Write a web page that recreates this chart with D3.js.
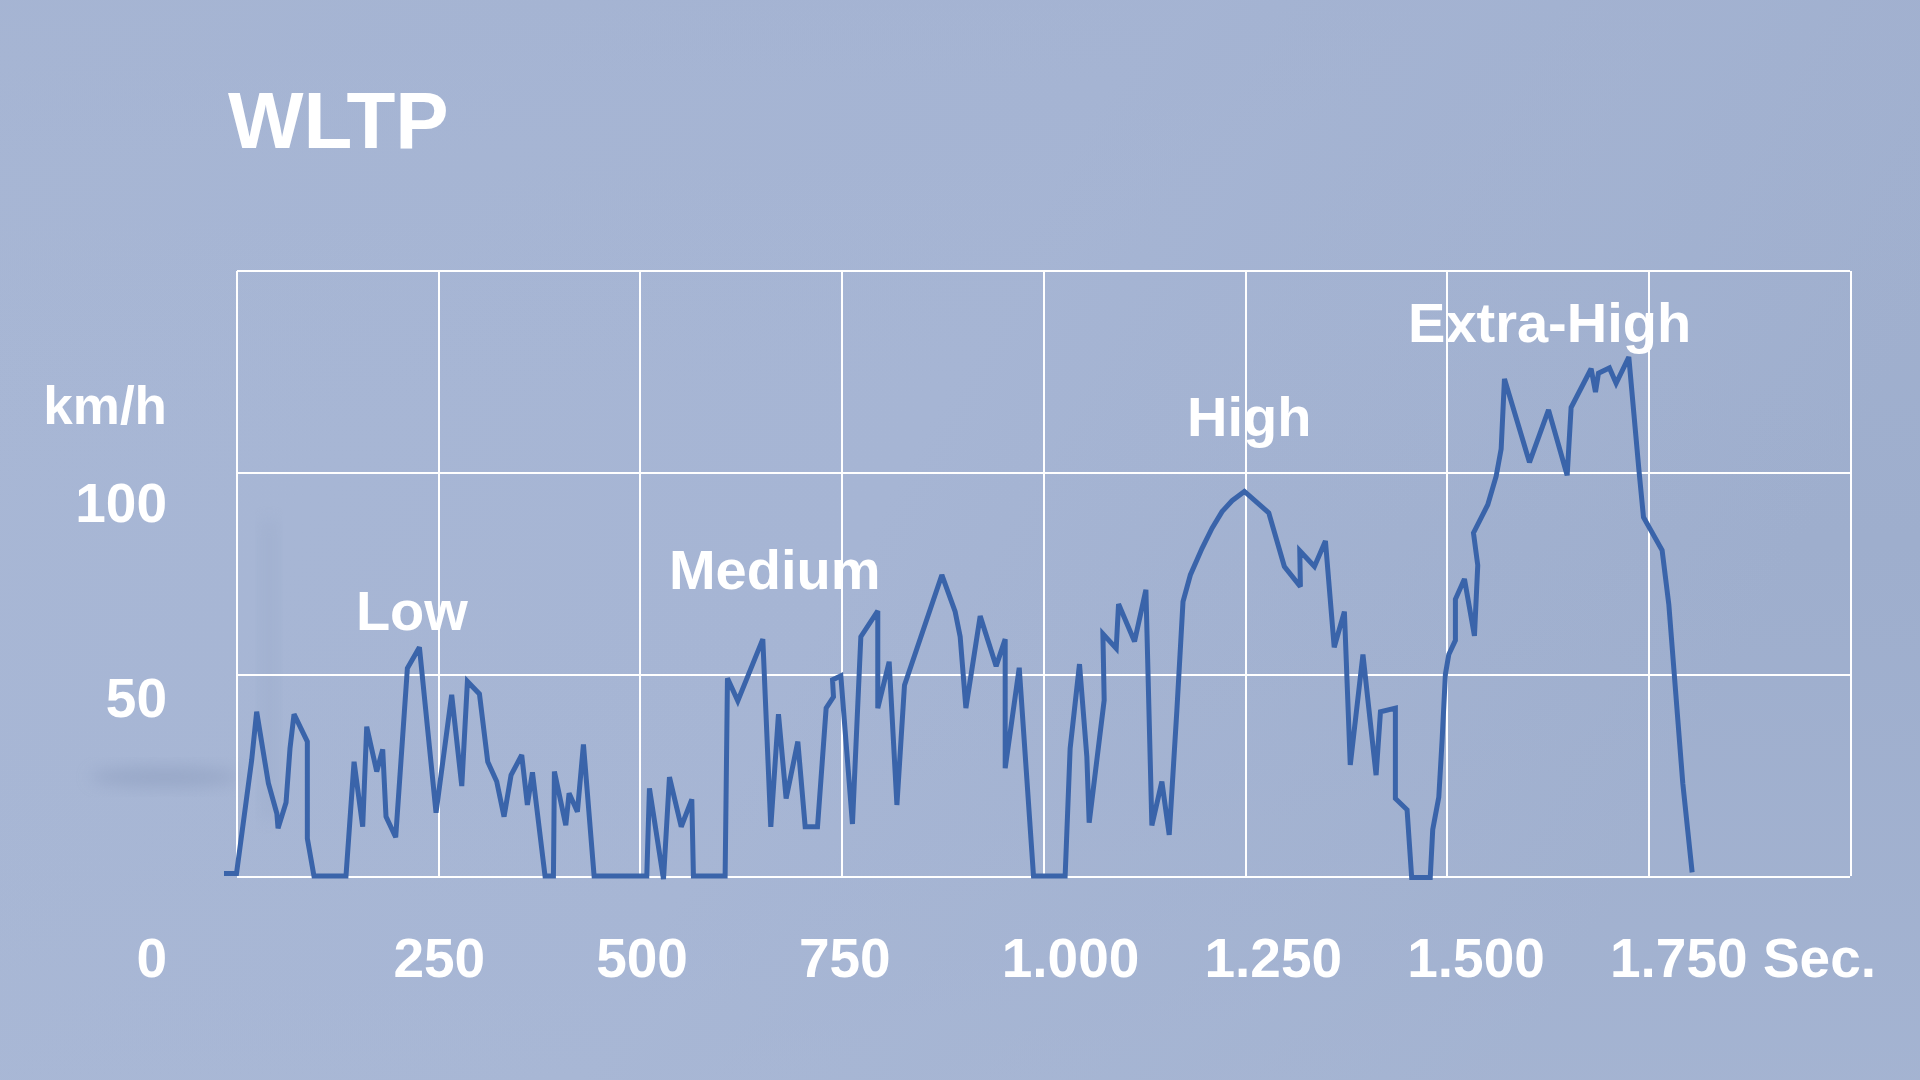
<!DOCTYPE html>
<html>
<head>
<meta charset="utf-8">
<script src="https://cdn.jsdelivr.net/npm/d3@7"></script>
<style>
  html, body { margin: 0; padding: 0; background: #a7b6d4; overflow: hidden; }
  svg { display: block; }
  text { font-family: "Liberation Sans", Arial, Helvetica, sans-serif; font-weight: bold; fill: #ffffff; }
</style>
</head>
<body>
<svg id="chart" width="1920" height="1080"></svg>
<script>
// ---------- DATA ----------
const chartTitle = "WLTP";
const unitLabel = "km/h";
const timeUnit = "Sec.";

// Speed trace (time in s, speed in km/h)
const timeSec = [
  -15.5, 0, 18.8, 25, 39.5, 50, 51.5, 61.4, 66.3, 71.3, 87.8, 87.8, 96, 135.7, 145.7, 156.4, 161.4,
  173.8, 181.2, 185.3, 197.3, 211.8, 226.7, 247.3, 266.7, 279.2, 286.2, 301.1, 311.4, 322.5, 331.6,
  340.3, 353.5, 360.5, 366.8, 382.4, 392.8, 394, 408.1, 412.2, 422.5, 430, 443.2,
  508.5, 511.8, 529.2, 536.6, 551.2, 564.3, 566.3, 605.6, 608.5, 621.3, 652.3, 662.2, 671.7, 681.2,
  695.7, 704.8, 720.1, 730.8, 739.9, 738.7, 749, 763.4, 773.8, 794.8, 794.8, 808.9, 818.5, 827.9,
  874.2, 890.7, 896.9, 904, 921.7, 941.5, 952.7, 952.7, 970.1, 987.8,
  1027, 1033.2, 1044.8, 1053.9, 1056.8, 1075.4, 1073.8, 1090.3, 1093.2, 1113, 1127.1, 1134.5, 1146.9,
  1156, 1165.5, 1173.1, 1182.2, 1196.7, 1209.1, 1221.5, 1233.9, 1249.2, 1279.4, 1298.7, 1318.6,
  1317.8, 1336, 1349.6, 1360.5, 1373.1, 1380.4, 1396.1, 1412.4, 1417.8, 1436.3, 1436.3, 1450.8,
  1456.5, 1479.5,
  1482.6, 1490.1, 1494.2, 1498.3, 1502.5, 1510.7, 1510.7, 1521.9, 1534.3, 1538.4, 1533.1, 1550.8,
  1561.2, 1567.4, 1571.5, 1602.5, 1626.1, 1649.2, 1654.1, 1678.9, 1684.3, 1688, 1701.6, 1709.9,
  1725.6, 1738, 1743.8, 1766.9, 1775.2, 1792.5, 1804.1
];
const speedKmh = [
  0.6, 0.6, 28.7, 40.7, 23, 15.5, 11.8, 18.2, 31.6, 40.1, 33.3, 9.3, 0, 0, 28.3, 12.2, 37,
  25.9, 31.4, 14.7, 9.6, 51.5, 56.7, 15.7, 44.9, 22.3, 48.2, 45.1, 28.3, 23.4, 14.7,
  25, 30, 17.6, 25.7, 0, 0, 25.9, 12.6, 20.5, 15.9, 32.6, 0,
  0, 21.7, -0.8, 24.5, 12.2, 19, 0, 0, 49, 43.4, 58.7, 12.2, 40.1, 19.2,
  33.3, 12.2, 12.2, 41.6, 44.4, 48.6, 49.6, 12.9, 59.3, 65.7, 41.6, 53.1, 17.6, 47.3,
  74.6, 65.5, 59.3, 41.6, 64.4, 52, 58.7, 26.7, 51.6, 0,
  0, 31.6, 52.5, 29.6, 13.2, 43.6, 60, 56.4, 67.4, 58.1, 70.9, 12.5, 23.4,
  10.2, 41.1, 68, 74.6, 81.2, 86.2, 90.3, 93, 95.3, 90, 76.7, 71.7,
  80.6, 76.7, 83, 56.7, 65.5, 27.5, 54.9, 25, 40.7, 41.6, 19.2, 16.4,
  -0.4, -0.4,
  11.5, 19.5, 33.6, 50, 54.9, 58.4, 68.6, 73.6, 59.5, 77, 85, 92,
  99.1, 105.8, 123.2, 102.5, 115.5, 99.3, 116.1, 125.7, 119.9, 124.6, 125.9, 122.1,
  128.6, 100.9, 88.9, 80.7, 67.3, 23, 0.9
];

// Phase annotations: name and anchor (time s, speed km/h)
const phaseNames = ["Low", "Medium", "High", "Extra-High"];
const phaseTime  = [148, 536, 1178, 1452];
const phaseSpeed = [61, 71.1, 109, 132.3];

// Axis ticks
const xGridValues = [0, 250, 500, 750, 1000, 1250, 1500, 1750, 2000];
const yGridValues = [0, 50, 100, 150];
const xTickValues = [250, 500, 750, 1000, 1250, 1500, 1750];
const xTickLabels = ["250", "500", "750", "1.000", "1.250", "1.500", "1.750 " + timeUnit];
const yTickValues = [50, 100];
const yTickLabels = ["50", "100"];
const originLabel = "0";
const unitLabelValue = 125;

// ---------- DRAW ----------
const W = 1920, H = 1080;
const svg = d3.select("#chart");
const defs = svg.append("defs");

const bg = defs.append("linearGradient").attr("id", "bg")
  .attr("x1", "0").attr("y1", "0").attr("x2", "1").attr("y2", "0.3");
bg.append("stop").attr("offset", "0").attr("stop-color", "#a8b7d5");
bg.append("stop").attr("offset", "0.55").attr("stop-color", "#a6b5d4");
bg.append("stop").attr("offset", "1").attr("stop-color", "#9eaecd");
const bgV = defs.append("linearGradient").attr("id", "bgV")
  .attr("x1", "0").attr("y1", "0").attr("x2", "0").attr("y2", "1");
bgV.append("stop").attr("offset", "0").attr("stop-color", "#a3b2d1").attr("stop-opacity", 0.5);
bgV.append("stop").attr("offset", "0.5").attr("stop-color", "#a7b6d4").attr("stop-opacity", 0);
bgV.append("stop").attr("offset", "1").attr("stop-color", "#aab9d6").attr("stop-opacity", 0.5);
const blur = defs.append("filter").attr("id", "blur").attr("x", "-50%").attr("y", "-50%")
  .attr("width", "200%").attr("height", "200%");
blur.append("feGaussianBlur").attr("stdDeviation", 8);

svg.append("rect").attr("width", W).attr("height", H).attr("fill", "url(#bg)");
svg.append("rect").attr("width", W).attr("height", H).attr("fill", "url(#bgV)");
// soft blurred background shapes
svg.append("ellipse").attr("cx", 165).attr("cy", 777).attr("rx", 75).attr("ry", 10)
  .attr("fill", "#8c9cbd").attr("opacity", 0.55).attr("filter", "url(#blur)");
svg.append("rect").attr("x", 262).attr("y", 520).attr("width", 14).attr("height", 300)
  .attr("fill", "#98a8c8").attr("opacity", 0.4).attr("filter", "url(#blur)");

const plot = { left: 236.5, right: 1850.2, top: 270.7, bottom: 876 };
const x = d3.scaleLinear().domain([0, 2000]).range([plot.left, plot.right]);
const y = d3.scaleLinear().domain([0, 150]).range([plot.bottom, plot.top]);

// Grid via axes
const gx = svg.append("g").attr("transform", `translate(0,${plot.bottom})`)
  .call(d3.axisBottom(x).tickValues(xGridValues).tickSize(-(plot.bottom - plot.top)).tickFormat(""));
const gy = svg.append("g").attr("transform", `translate(${plot.left},0)`)
  .call(d3.axisLeft(y).tickValues(yGridValues).tickSize(-(plot.right - plot.left)).tickFormat(""));
[gx, gy].forEach(g => {
  g.select(".domain").remove();
  g.selectAll(".tick line").attr("stroke", "#ffffff").attr("stroke-width", 2).attr("shape-rendering", "crispEdges");
});

// Speed line
const pts = timeSec.map((t, i) => [t, speedKmh[i]]);
const line = d3.line().x(d => x(d[0])).y(d => y(d[1]));
svg.append("path").datum(pts)
  .attr("d", line)
  .attr("fill", "none")
  .attr("stroke", "#3a64aa")
  .attr("stroke-width", 5)
  .attr("stroke-linejoin", "miter")
  .attr("stroke-miterlimit", 3);

// Title
svg.append("text").attr("x", 228).attr("y", 148).attr("font-size", 80).text(chartTitle);

// X tick labels (placed through a label scale)
const xLab = d3.scaleLinear().domain([250, 1750]).range([393.4, 1610]);
const xLabelBaseline = 976.5;
svg.append("g").selectAll("text").data(xTickValues).join("text")
  .attr("x", d => xLab(d))
  .attr("y", xLabelBaseline)
  .attr("font-size", 55)
  .attr("text-anchor", "start")
  .text((d, i) => xTickLabels[i]);

// Y tick labels (placed through a label scale)
const yLab = d3.scaleLinear().domain([50, 100]).range([716.7, 521.7]);
const yLabelRight = 167;
svg.append("g").selectAll("text").data(yTickValues).join("text")
  .attr("x", yLabelRight)
  .attr("y", d => yLab(d))
  .attr("font-size", 55)
  .attr("text-anchor", "end")
  .text((d, i) => yTickLabels[i]);
svg.append("text").attr("x", yLabelRight).attr("y", yLab(unitLabelValue))
  .attr("font-size", 53).attr("text-anchor", "end").text(unitLabel);
svg.append("text").attr("x", yLabelRight).attr("y", xLabelBaseline)
  .attr("font-size", 55).attr("text-anchor", "end").text(originLabel);

// Phase labels
svg.append("g").selectAll("text").data(phaseNames).join("text")
  .attr("x", (d, i) => x(phaseTime[i]))
  .attr("y", (d, i) => y(phaseSpeed[i]))
  .attr("font-size", 56)
  .text(d => d);
</script>
</body>
</html>
